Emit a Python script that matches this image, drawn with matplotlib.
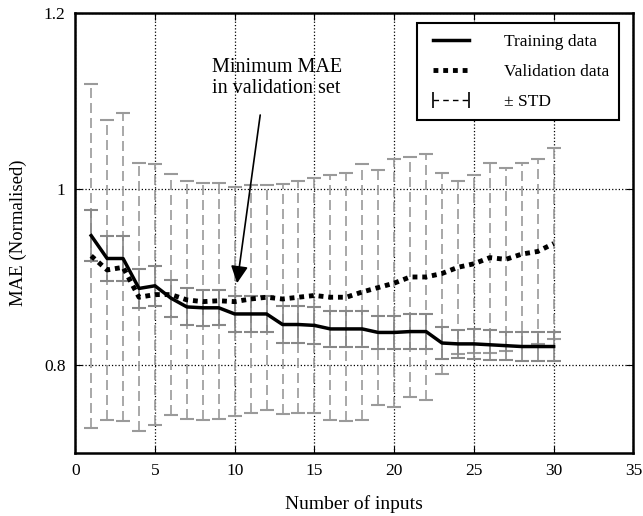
import numpy as np
import matplotlib
matplotlib.use('Agg')
import matplotlib.pyplot as plt
from matplotlib.lines import Line2D
from matplotlib.ticker import FormatStrFormatter

# values
n_inputs = list(range(1, 31))
train_mae = [0.947, 0.921, 0.921, 0.887, 0.890, 0.876, 0.866, 0.865, 0.865, 0.858,
             0.858, 0.858, 0.846, 0.846, 0.845, 0.841, 0.841, 0.841, 0.837, 0.837,
             0.838, 0.838, 0.825, 0.824, 0.824, 0.823, 0.822, 0.821, 0.821, 0.821]
train_std = [0.029, 0.026, 0.0255, 0.0223, 0.0228, 0.021, 0.021, 0.0205, 0.020, 0.020,
             0.020, 0.0205, 0.0208, 0.0208, 0.021, 0.020, 0.0205, 0.0205, 0.019, 0.0184,
             0.020, 0.020, 0.018, 0.016, 0.017, 0.017, 0.016, 0.016, 0.016, 0.0165]
val_mae = [0.924, 0.908, 0.911, 0.877, 0.880, 0.880, 0.874, 0.872, 0.873, 0.872,
           0.875, 0.877, 0.875, 0.877, 0.879, 0.877, 0.877, 0.883, 0.888, 0.893,
           0.900, 0.900, 0.904, 0.911, 0.915, 0.922, 0.920, 0.926, 0.929, 0.938]
val_std = [0.195, 0.170, 0.175, 0.152, 0.148, 0.137, 0.135, 0.135, 0.134, 0.130,
           0.130, 0.128, 0.131, 0.132, 0.133, 0.139, 0.141, 0.145, 0.133, 0.141,
           0.136, 0.140, 0.1145, 0.098, 0.101, 0.108, 0.104, 0.104, 0.105, 0.108]

plt.rcParams['font.family'] = ['Liberation Serif', 'DejaVu Serif']
plt.rcParams['font.size'] = 12

fig = plt.figure(figsize=(6.43, 5.16), dpi=100)
ax = fig.add_axes([0.117, 0.122, 0.868, 0.853])

# +/- STD of validation (wide, dashed)
eb = ax.errorbar(n_inputs, val_mae, yerr=val_std, fmt='none', ecolor='#9a9a9a',
                 elinewidth=1.2, capsize=5, capthick=1.5, zorder=2)
eb[2][0].set_linestyle((0, (6, 3)))
for c in eb[1]:
    c.set_color('#333333')

# +/- STD of training (narrow, solid)
eb2 = ax.errorbar(n_inputs, train_mae, yerr=train_std, fmt='none', ecolor='#888888',
                  elinewidth=1.2, capsize=5, capthick=1.5, zorder=2)
for c in eb2[1]:
    c.set_color('#333333')

ax.plot(n_inputs, train_mae, color='black', lw=2.5, zorder=4)
ax.plot(n_inputs, val_mae, color='black', lw=3.5, linestyle=(0, (1, 1)),
        dash_capstyle='butt', zorder=4)

# annotation for the minimum validation MAE
ax.text(8.6, 1.126, 'Minimum MAE\nin validation set', ha='left', va='center',
        fontsize=14.5)
ax.annotate('', xy=(10.15, 0.893), xytext=(11.6, 1.084),
            arrowprops=dict(arrowstyle='-|>', color='black', lw=1.2,
                            mutation_scale=26, shrinkA=0, shrinkB=0))

ax.set_xlim(0, 35)
ax.set_ylim(0.7, 1.2)
ax.set_xticks(range(0, 36, 5))
ax.set_yticks([0.8, 1.0, 1.2])
ax.yaxis.set_major_formatter(FormatStrFormatter('%g'))
ax.grid(True, linestyle=':', color='black', lw=0.9)
ax.tick_params(direction='in', top=True, right=True, length=5, labelsize=12.5, pad=7)
for s in ax.spines.values():
    s.set_linewidth(1.8)

ax.set_xlabel('Number of inputs', fontsize=14, labelpad=12)
ax.set_ylabel('MAE (Normalised)', fontsize=13.5, labelpad=12)

handles = [Line2D([], [], color='black', lw=2.5),
           Line2D([], [], color='black', lw=3.5, linestyle=(0, (1, 1))),
           Line2D([], [], color='black', lw=1, linestyle=(0, (4, 3)),
                  marker='|', markersize=12, markeredgewidth=1.2)]
leg = ax.legend(handles, ['Training data', 'Validation data', '\u00b1 STD'],
                loc='upper right', numpoints=2, fancybox=False, framealpha=1,
                edgecolor='black', handlelength=2.7, handletextpad=1.7,
                borderpad=0.6, labelspacing=0.8, fontsize=12.5,
                borderaxespad=0, bbox_to_anchor=(0.975, 0.977))
leg.get_frame().set_linewidth(1.5)

fig.savefig('out.png', dpi=100)
